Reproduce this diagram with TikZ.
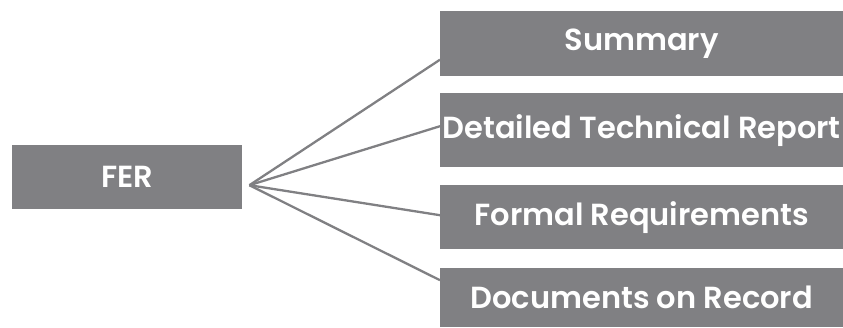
\documentclass[tikz,border=0pt]{standalone}
\usepackage{fontspec}
\setmainfont{Poppins}[UprightFont=* SemiBold]
\definecolor{boxgray}{HTML}{808083}
\begin{document}
\begin{tikzpicture}[x=1pt,y=-1pt,
  box/.style={fill=boxgray,text=white,inner sep=0pt,anchor=north west,
    font=\fontsize{30.5}{34}\selectfont},
  link/.style={draw=boxgray,line width=2.3pt}]
\useasboundingbox (0,0) rectangle (843,327);
% root and branch boxes
\node[box,minimum width=230pt,minimum height=64pt] (fer) at (12,145) {FER};
\node[box,minimum width=403pt,minimum height=65pt] (sum) at (440,11) {Summary};
\node[box,minimum width=403pt,minimum height=74pt] (det) at (440,93) {Detailed Technical Report};
\node[box,minimum width=403pt,minimum height=64pt] (frm) at (440,185) {Formal Requirements};
\node[box,minimum width=403pt,minimum height=59pt] (doc) at (440,268) {Documents on Record};
% fan of connectors from a point just right of the root
\coordinate (apex) at ([xshift=7pt,yshift=-8pt]fer.east);
\draw[link] (apex) -- ([yshift=-16pt]sum.west);
\draw[link] (apex) -- ([yshift=4pt]det.west);
\draw[link] (apex) -- ([yshift=2pt]frm.west);
\draw[link] (apex) -- ([yshift=17.5pt]doc.west);
\end{tikzpicture}
\end{document}
